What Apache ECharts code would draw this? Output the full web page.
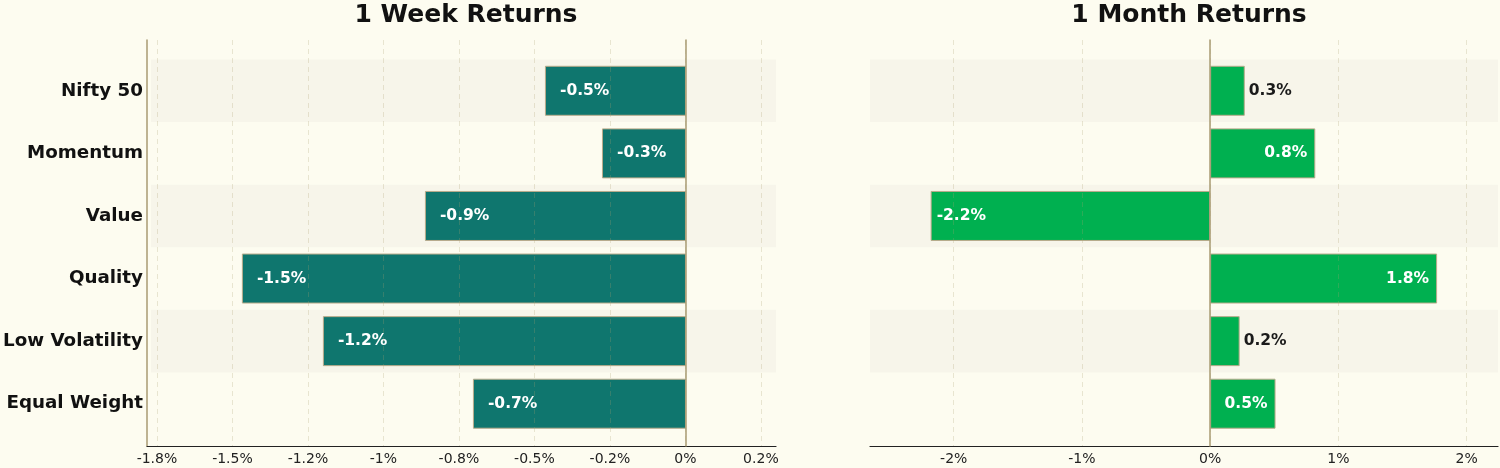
<!DOCTYPE html>
<html lang="en">
<head>
  <meta charset="UTF-8">
  <title>Factor Returns</title>
  <style>
    html, body { margin: 0; padding: 0; background: #fdfcf0; }
    #main { width: 1500px; height: 468px; }
  </style>
</head>
<body>
  <div id="main"></div>

  <script src="https://cdn.jsdelivr.net/npm/echarts@6/dist/echarts.min.js"></script>
  <script type="text/javascript">

    // 数据
    var categories = ['Nifty 50', 'Momentum', 'Value', 'Quality', 'Low Volatility', 'Equal Weight'];
    var weekReturns = [-0.47, -0.28, -0.87, -1.48, -1.21, -0.71];
    var monthReturns = [0.27, 0.82, -2.18, 1.77, 0.23, 0.51];

    var weekTicks = [-1.75, -1.5, -1.25, -1.0, -0.75, -0.5, -0.25, 0, 0.25];
    var weekTickLabels = ['-1.8%', '-1.5%', '-1.2%', '-1%', '-0.8%', '-0.5%', '-0.2%', '0%', '0.2%'];
    var monthTicks = [-2, -1, 0, 1, 2];
    var monthTickLabels = ['-2%', '-1%', '0%', '1%', '2%'];

    var weekRange = [-1.783, 0.30];
    var monthRange = [-2.653, 2.245];

    var font = 'DejaVu Sans';
    var tan = '#a99b73';

    function tickLabel(ticks, labels) {
      return function (v) {
        for (var i = 0; i < ticks.length; i++) {
          if (Math.abs(ticks[i] - v) < 1e-6) return labels[i];
        }
        return '';
      };
    }

    function pct(v) { return v.toFixed(1) + '%'; }

    // 外框坐标轴（网格线、刻度、零线）
    function frameX(idx, range, ticks, labels) {
      return {
        type: 'value', gridIndex: idx, min: range[0], max: range[1], z: 3,
        axisLine: { show: true, onZero: false, lineStyle: { color: '#222', width: 1.2 } },
        axisTick: { show: false, customValues: ticks },
        axisLabel: {
          customValues: ticks, formatter: tickLabel(ticks, labels),
          fontFamily: font, fontSize: 14, color: '#222', margin: 6
        },
        splitLine: { show: true, lineStyle: { type: [5, 4], color: 'rgba(170,160,110,0.25)', width: 1 } }
      };
    }

    function barX(idx, range) {
      return { type: 'value', gridIndex: idx, min: range[0], max: range[1], show: false };
    }

    function catY(idx, showLabel) {
      return {
        type: 'category', gridIndex: idx, data: categories, inverse: true,
        axisLine: { show: false }, axisTick: { show: false },
        axisLabel: {
          show: showLabel, fontFamily: font, fontSize: 18.3, fontWeight: 'bold',
          color: '#111', margin: 8
        },
        splitLine: { show: false },
        splitArea: { show: true, areaStyle: { color: ['#f7f5ea', 'rgba(0,0,0,0)'] } }
      };
    }

    var weekData = weekReturns.map(function (v) {
      return {
        value: v,
        label: { position: 'insideLeft', distance: 15, color: '#fff' }
      };
    });

    var monthData = monthReturns.map(function (v) {
      var lbl;
      if (v < 0) lbl = { position: 'insideLeft', distance: 6, color: '#fff' };
      else if (v < 0.4) lbl = { position: 'right', distance: 4, color: '#1a1a1a' };
      else lbl = { position: 'insideRight', distance: 8, color: '#fff' };
      return { value: v, label: lbl };
    });

    var barLabel = {
      show: true, fontFamily: font, fontSize: 15.5, fontWeight: 'bold',
      formatter: function (p) { return pct(p.value); }
    };

    var titleStyle = { fontFamily: font, fontSize: 25, fontWeight: 'bold', color: '#111' };

    var option = {
      backgroundColor: '#fdfcf0',
      animation: false,
      title: [
        { text: '1 Week Returns', left: 461, top: -2, textAlign: 'center', textStyle: titleStyle },
        { text: '1 Month Returns', left: 1184, top: -2, textAlign: 'center', textStyle: titleStyle }
      ],
      grid: [
        { left: 147, right: 724, top: 40, bottom: 22 },
        { left: 147, right: 724, top: 59.5, bottom: 33 },
        { left: 870, right: 2, top: 40, bottom: 22 },
        { left: 870, right: 2, top: 59.5, bottom: 33 }
      ],
      xAxis: [
        frameX(0, weekRange, weekTicks, weekTickLabels),
        barX(1, weekRange),
        frameX(2, monthRange, monthTicks, monthTickLabels),
        barX(3, monthRange)
      ],
      yAxis: [
        // 左图左侧轴线
        { type: 'value', gridIndex: 0, min: 0, max: 1, position: 'left',
          axisLine: { show: true, onZero: false, lineStyle: { color: tan, width: 1.5 } },
          axisTick: { show: false }, axisLabel: { show: false }, splitLine: { show: false } },
        // 左图零线
        { type: 'value', gridIndex: 0, min: 0, max: 1, z: 4,
          axisLine: { show: true, onZero: true, lineStyle: { color: tan, width: 1.5 } },
          axisTick: { show: false }, axisLabel: { show: false }, splitLine: { show: false } },
        catY(1, true),
        // 右图零线
        { type: 'value', gridIndex: 2, min: 0, max: 1, z: 4,
          axisLine: { show: true, onZero: true, lineStyle: { color: tan, width: 1.5 } },
          axisTick: { show: false }, axisLabel: { show: false }, splitLine: { show: false } },
        catY(3, false)
      ],
      series: [
        {
          name: '1 Week', type: 'bar', xAxisIndex: 1, yAxisIndex: 2,
          data: weekData, barWidth: 50, z: 2,
          itemStyle: { color: '#0f766e', borderColor: '#b9ab8b', borderWidth: 1 },
          label: barLabel
        },
        {
          name: '1 Month', type: 'bar', xAxisIndex: 3, yAxisIndex: 4,
          data: monthData, barWidth: 50, z: 2,
          itemStyle: { color: '#00b050', borderColor: '#b9ab8b', borderWidth: 1 },
          label: barLabel
        }
      ]
    };

    var myChart = echarts.init(document.getElementById('main'));
    myChart.setOption(option);
  </script>
</body>
</html>
